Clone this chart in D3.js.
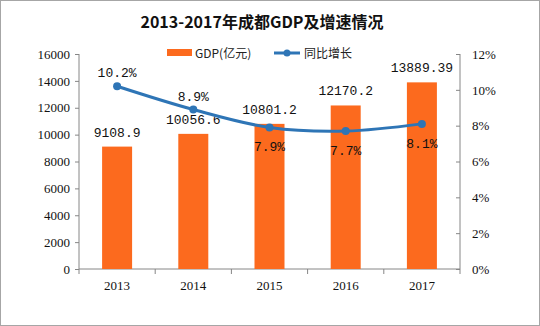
<!DOCTYPE html>
<html><head><meta charset="utf-8">
<script src="https://cdn.jsdelivr.net/npm/d3@7"></script>
<style>body{margin:0;background:#fff}svg{display:block}</style>
</head><body>
<script>
const years = ["2013","2014","2015","2016","2017"];
const gdp = [9108.9, 10056.6, 10801.2, 12170.2, 13889.39];
const gdpLabels = ["9108.9","10056.6","10801.2","12170.2","13889.39"];
const growth = [10.2, 8.9, 7.9, 7.7, 8.1];
const growthLabels = ["10.2%","8.9%","7.9%","7.7%","8.1%"];
const growthLabelBelow = [false, false, true, true, true];
const leftTicks = [0,2000,4000,6000,8000,10000,12000,14000,16000];
const rightTicks = [0,2,4,6,8,10,12];

const W=540,H=326;
const svg=d3.select("body").append("svg").attr("width",W).attr("height",H);
svg.append("rect").attr("x",0.5).attr("y",0.5).attr("width",W-1).attr("height",H-1).attr("fill","#fff").attr("stroke","#a6a6a6");

const L=79,R=460,T=54,B=269;
const x=d3.scaleBand().domain(years).range([L,R]);
const yL=d3.scaleLinear().domain([0,16000]).range([B,T]);
const yR=d3.scaleLinear().domain([0,12]).range([B,T]);
const axisColor="#868686";
const serif="'Liberation Serif','DejaVu Serif',serif";
const mono="'Liberation Mono','DejaVu Sans Mono',monospace";

svg.append("text").attr("x",262).attr("y",28).attr("text-anchor","middle")
  .attr("font-family","'Noto Sans CJK SC',sans-serif").attr("font-weight","bold").attr("font-size",16)
  .attr("fill","#111").text("2013-2017年成都GDP及增速情况");

// legend
const lg=svg.append("g");
lg.append("rect").attr("x",167).attr("y",49).attr("width",25).attr("height",7).attr("fill","#fc6a1e");
lg.append("text").attr("x",195).attr("y",57.5).attr("font-family","'Noto Sans CJK SC',sans-serif").attr("font-size",12).attr("fill","#222").text("GDP(亿元)");
lg.append("line").attr("x1",274).attr("x2",300).attr("y1",53).attr("y2",53).attr("stroke","#2e75b6").attr("stroke-width",3);
lg.append("circle").attr("cx",287).attr("cy",53).attr("r",3.5).attr("fill","#2e75b6");
lg.append("text").attr("x",304).attr("y",57.5).attr("font-family","'Noto Sans CJK SC',sans-serif").attr("font-size",12).attr("fill","#222").text("同比增长");

// axes
const la=svg.append("g").attr("transform",`translate(${L},0)`).call(d3.axisLeft(yL).tickValues(leftTicks).tickSize(4).tickPadding(5).tickFormat(d3.format("d")));
const ra=svg.append("g").attr("transform",`translate(${R},0)`).call(d3.axisRight(yR).tickValues(rightTicks).tickSize(-4).tickPadding(12).tickFormat(d=>d+"%"));
const xa=svg.append("g").attr("transform",`translate(0,${B})`).call(d3.axisBottom(x).tickSize(0).tickPadding(12));
xa.selectAll(".tick line").remove();
xa.selectAll(".bt").data(years.concat(["end"])).enter().append("line")
  .attr("x1",(d,i)=>L+i*x.step()).attr("x2",(d,i)=>L+i*x.step()).attr("y1",0).attr("y2",5).attr("stroke",axisColor);
[la,ra,xa].forEach(g=>{g.selectAll("path,line").attr("stroke",axisColor);g.selectAll("text").attr("font-family",serif).attr("font-size",13).attr("fill","#111");});
la.select(".domain").attr("d",`M0,${T}V${B}`);
ra.select(".domain").attr("d",`M0,${T}V${B}`);
xa.select(".domain").attr("d",`M${L},0H${R}`);

// bars
const bw=30;
svg.selectAll(".bar").data(gdp).enter().append("rect")
  .attr("x",(d,i)=>x(years[i])+x.bandwidth()/2-bw/2).attr("width",bw)
  .attr("y",d=>yL(d)).attr("height",d=>B-yL(d)).attr("fill","#fc6a1e");
svg.selectAll(".bl").data(gdp).enter().append("text")
  .attr("x",(d,i)=>x(years[i])+x.bandwidth()/2).attr("y",d=>yL(d)-10)
  .attr("text-anchor","middle").attr("font-family",mono).attr("font-size",13).attr("fill","#111")
  .text((d,i)=>gdpLabels[i]);

// line
const line=d3.line().x((d,i)=>x(years[i])+x.bandwidth()/2).y(d=>yR(d)).curve(d3.curveCatmullRom.alpha(0.5));
svg.append("path").datum(growth).attr("d",line).attr("fill","none").attr("stroke","#2e75b6").attr("stroke-width",3);
svg.selectAll(".pt").data(growth).enter().append("circle")
  .attr("cx",(d,i)=>x(years[i])+x.bandwidth()/2).attr("cy",d=>yR(d)).attr("r",4).attr("fill","#2e75b6");
svg.selectAll(".gl").data(growth).enter().append("text")
  .attr("x",(d,i)=>x(years[i])+x.bandwidth()/2).attr("y",(d,i)=>growthLabelBelow[i]?yR(d)+24:yR(d)-9)
  .attr("text-anchor","middle").attr("font-family",mono).attr("font-size",13).attr("fill","#111")
  .text((d,i)=>growthLabels[i]);
</script>
</body></html>
